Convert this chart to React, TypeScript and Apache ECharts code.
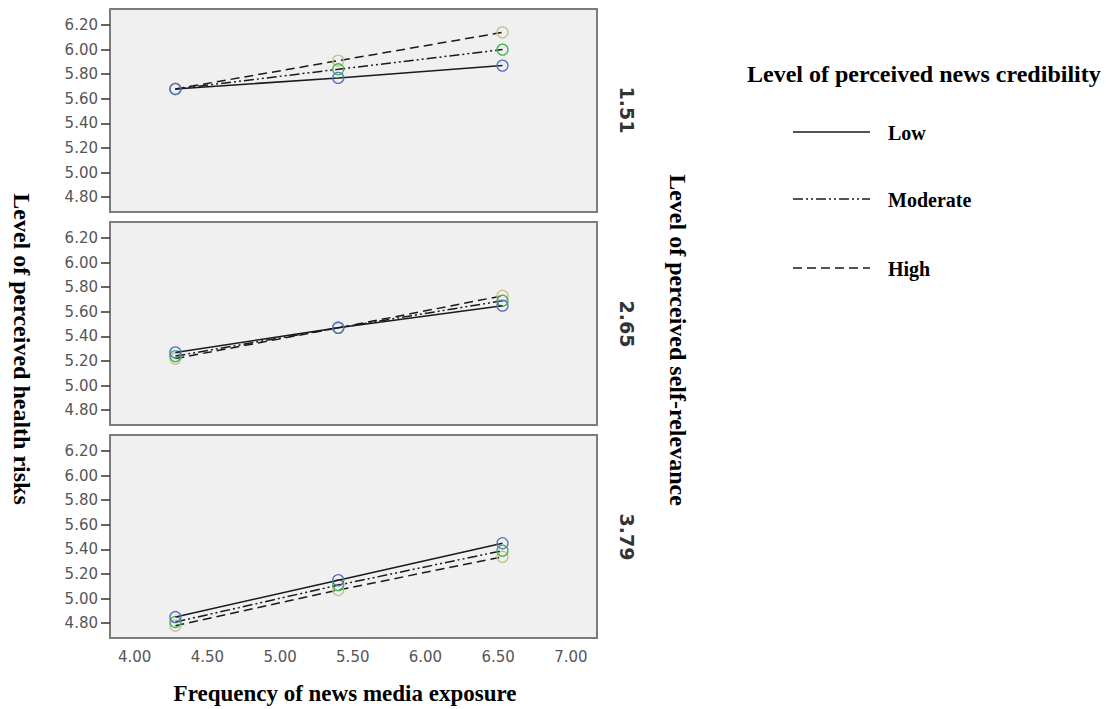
import React, { useEffect, useRef } from "react";
import * as echarts from "echarts";

const exposureX = [4.28, 5.4, 6.53];
const panelLabels = ["1.51", "2.65", "3.79"];
const seriesNames = ["Low", "Moderate", "High"];
// values[panel][k] -> y at exposureX[k]
const lowValues = [
  [5.68, 5.77, 5.87],
  [5.27, 5.47, 5.65],
  [4.85, 5.15, 5.45],
];
const moderateValues = [
  [5.68, 5.84, 6.0],
  [5.24, 5.47, 5.69],
  [4.81, 5.11, 5.39],
];
const highValues = [
  [5.68, 5.91, 6.14],
  [5.22, 5.47, 5.73],
  [4.78, 5.07, 5.34],
];
const yTicks = [4.8, 5.0, 5.2, 5.4, 5.6, 5.8, 6.0, 6.2];
const xTicks = [4.0, 4.5, 5.0, 5.5, 6.0, 6.5, 7.0];

const markerColors = ["#5a6fc6", "#3fb54d", "#c9c184"];
const dashes: any[] = ["solid", [10, 3, 2, 3, 2, 3], [9, 5]];

export default function App() {
  const ref = useRef<HTMLDivElement>(null);
  useEffect(() => {
    const chart = echarts.init(ref.current!, null, { renderer: "svg" });
    const gridTops = [9, 222, 435];
    const gridH = 203;
    const grids = gridTops.map((t) => ({
      left: 110,
      width: 487,
      top: t,
      height: gridH,
      show: true,
      backgroundColor: "#f0f0f0",
      borderColor: "#7c7c7c",
      borderWidth: 2,
    }));
    const xAxes = gridTops.map((_, i) => ({
      type: "value",
      gridIndex: i,
      min: 3.83,
      max: 7.18,
      axisLine: { show: false },
      axisTick: { show: false },
      splitLine: { show: false },
      axisLabel: {
        show: i === 2,
        customValues: xTicks,
        formatter: (v: number) => v.toFixed(2),
        fontFamily: "DejaVu Sans",
        fontSize: 15,
        color: "#555",
        margin: 11,
      },
    }));
    const yAxes = gridTops.map((_, i) => ({
      type: "value",
      gridIndex: i,
      min: 4.68,
      max: 6.33,
      axisLine: { show: false },
      splitLine: { show: false },
      axisTick: {
        show: true,
        customValues: yTicks,
        length: 9,
        lineStyle: { color: "#333", width: 1.5 },
      },
      axisLabel: {
        customValues: yTicks,
        formatter: (v: number) => v.toFixed(2),
        fontFamily: "DejaVu Sans",
        fontSize: 15,
        color: "#555",
        margin: 12,
      },
    }));
    const allVals = [lowValues, moderateValues, highValues];
    const series: any[] = [];
    for (let p = 0; p < 3; p++) {
      for (let s = 0; s < 3; s++) {
        series.push({
          name: seriesNames[s],
          type: "line",
          xAxisIndex: p,
          yAxisIndex: p,
          data: exposureX.map((x, k) => [x, allVals[s][p][k]]),
          symbol: "circle",
          symbolSize: 11,
          itemStyle: {
            color: "rgba(0,0,0,0)",
            borderColor: markerColors[s],
            borderWidth: 1.3,
          },
          lineStyle: { color: "#1a1a1a", width: 1.5, type: dashes[s] },
          z: 3 - s,
        });
      }
    }
    const serif = "Liberation Serif";
    const graphic: any[] = [];
    const labelYs = [110, 324, 537];
    panelLabels.forEach((t, i) => {
      graphic.push({
        type: "text",
        x: 627,
        y: labelYs[i],
        rotation: -Math.PI / 2,
        style: {
          text: t,
          font: "bold 19px 'DejaVu Sans'",
          fill: "#333",
          textAlign: "center",
          textVerticalAlign: "middle",
        },
      });
    });
    graphic.push({
      type: "text",
      x: 22,
      y: 349,
      rotation: -Math.PI / 2,
      style: {
        text: "Level of perceived health risks",
        font: `bold 24px '${serif}'`,
        fill: "#000",
        textAlign: "center",
        textVerticalAlign: "middle",
      },
    });
    graphic.push({
      type: "text",
      x: 678,
      y: 340,
      rotation: -Math.PI / 2,
      style: {
        text: "Level of perceived self-relevance",
        font: `bold 24px '${serif}'`,
        fill: "#000",
        textAlign: "center",
        textVerticalAlign: "middle",
      },
    });
    graphic.push({
      type: "text",
      x: 345,
      y: 693,
      style: {
        text: "Frequency of news media exposure",
        font: `bold 23px '${serif}'`,
        fill: "#000",
        textAlign: "center",
        textVerticalAlign: "middle",
      },
    });
    graphic.push({
      type: "text",
      x: 747,
      y: 74,
      style: {
        text: "Level of perceived news credibility",
        font: `bold 24px '${serif}'`,
        fill: "#000",
        textAlign: "left",
        textVerticalAlign: "middle",
      },
    });
    const legYs = [132, 199, 268];
    seriesNames.forEach((n, i) => {
      graphic.push({
        type: "line",
        shape: { x1: 793, y1: legYs[i], x2: 870, y2: legYs[i] },
        style: {
          stroke: "#1a1a1a",
          lineWidth: 1.6,
          lineDash: i === 0 ? null : dashes[i],
        },
      });
      graphic.push({
        type: "text",
        x: 888,
        y: legYs[i] + 1,
        style: {
          text: n,
          font: `bold 20px '${serif}'`,
          fill: "#000",
          textAlign: "left",
          textVerticalAlign: "middle",
        },
      });
    });
    chart.setOption({
      animation: false,
      backgroundColor: "#fff",
      grid: grids,
      xAxis: xAxes,
      yAxis: yAxes,
      series,
      graphic,
    });
    return () => chart.dispose();
  }, []);
  return (
    <div
      ref={ref}
      style={{ position: "fixed", left: 0, top: 0, width: 1106, height: 709 }}
    />
  );
}
